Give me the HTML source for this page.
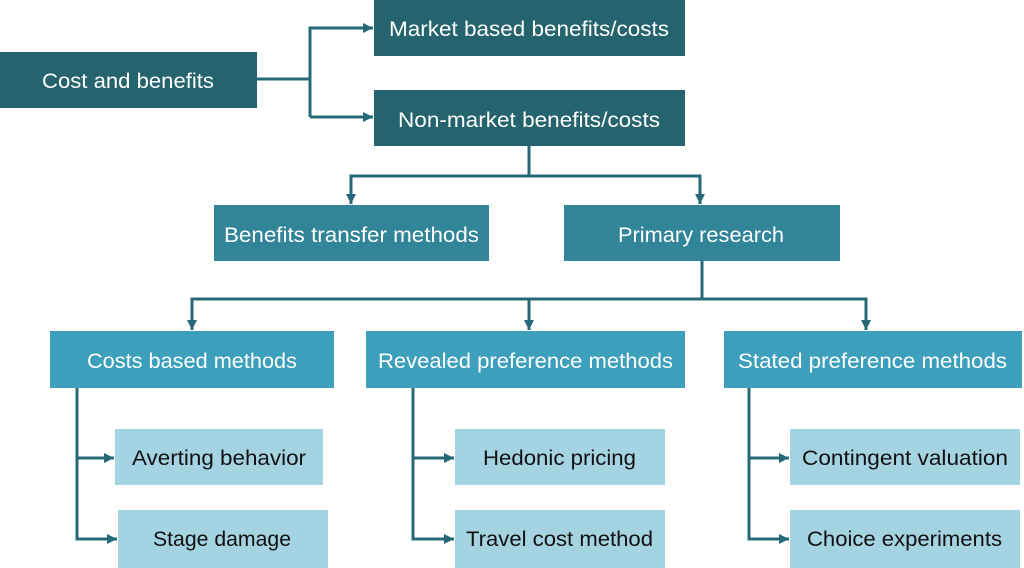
<!DOCTYPE html>
<html><head><meta charset="utf-8"><style>
html,body{margin:0;padding:0;background:#fff;}
svg{display:block;}
text{font-family:"Liberation Sans",Arial,sans-serif;font-size:21.5px;}
.w{fill:#ffffff;}
.k{fill:#111111;}
</style></head><body>
<svg width="1024" height="568" viewBox="0 0 1024 568" xmlns="http://www.w3.org/2000/svg">
<defs>
<marker id="a" viewBox="0 0 10 10" refX="10" refY="5" markerWidth="3.4" markerHeight="3.4" markerUnits="strokeWidth" orient="auto">
<path d="M0,0 L10,5 L0,10 z" fill="#266877"/>
</marker>
</defs>
<g fill="none" stroke="#266877" stroke-width="3">
<path d="M257,79 H310"/>
<path d="M310,117 V28 H373" marker-end="url(#a)"/>
<path d="M310,117 H373" marker-end="url(#a)"/>
<path d="M529,146 V176"/>
<path d="M529,176 H351 V204" marker-end="url(#a)"/>
<path d="M529,176 H700 V204" marker-end="url(#a)"/>
<path d="M702,261 V299"/>
<path d="M702,299 H192 V330" marker-end="url(#a)"/>
<path d="M529,299 V330" marker-end="url(#a)"/>
<path d="M702,299 H866 V330" marker-end="url(#a)"/>
<path d="M77,388 V539 H117" marker-end="url(#a)"/>
<path d="M77,458 H114" marker-end="url(#a)"/>
<path d="M413,388 V539 H454" marker-end="url(#a)"/>
<path d="M413,458 H454" marker-end="url(#a)"/>
<path d="M749,388 V539 H789" marker-end="url(#a)"/>
<path d="M749,458 H789" marker-end="url(#a)"/>
</g>
<g>
<rect x="0" y="52" width="257" height="56" fill="#25636f"/>
<rect x="374" y="0" width="311" height="56" fill="#25636f"/>
<rect x="374" y="90" width="311" height="56" fill="#25636f"/>
<rect x="214" y="205" width="275" height="56" fill="#328498"/>
<rect x="564" y="205" width="276" height="56" fill="#328498"/>
<rect x="50" y="331" width="284" height="57" fill="#3ca0bd"/>
<rect x="366" y="331" width="319" height="57" fill="#3ca0bd"/>
<rect x="724" y="331" width="298" height="57" fill="#3ca0bd"/>
<rect x="115" y="429" width="208" height="56" fill="#a4d4e1"/>
<rect x="118" y="510" width="210" height="58" fill="#a4d4e1"/>
<rect x="455" y="429" width="210" height="56" fill="#a4d4e1"/>
<rect x="455" y="510" width="210" height="58" fill="#a4d4e1"/>
<rect x="790" y="429" width="230" height="56" fill="#a4d4e1"/>
<rect x="790" y="510" width="230" height="58" fill="#a4d4e1"/>
</g>
<g>
<text class="w" x="42" y="88" textLength="172" lengthAdjust="spacingAndGlyphs">Cost and benefits</text>
<text class="w" x="389" y="36" textLength="280" lengthAdjust="spacingAndGlyphs">Market based benefits/costs</text>
<text class="w" x="398" y="127" textLength="262" lengthAdjust="spacingAndGlyphs">Non-market benefits/costs</text>
<text class="w" x="224" y="242" textLength="255" lengthAdjust="spacingAndGlyphs">Benefits transfer methods</text>
<text class="w" x="618" y="242" textLength="166" lengthAdjust="spacingAndGlyphs">Primary research</text>
<text class="w" x="87" y="368" textLength="210" lengthAdjust="spacingAndGlyphs">Costs based methods</text>
<text class="w" x="378" y="368" textLength="295" lengthAdjust="spacingAndGlyphs">Revealed preference methods</text>
<text class="w" x="738" y="368" textLength="269" lengthAdjust="spacingAndGlyphs">Stated preference methods</text>
<text class="k" x="132" y="465" textLength="174" lengthAdjust="spacingAndGlyphs">Averting behavior</text>
<text class="k" x="153" y="546" textLength="138" lengthAdjust="spacingAndGlyphs">Stage damage</text>
<text class="k" x="483" y="465" textLength="153" lengthAdjust="spacingAndGlyphs">Hedonic pricing</text>
<text class="k" x="466" y="546" textLength="187" lengthAdjust="spacingAndGlyphs">Travel cost method</text>
<text class="k" x="802" y="465" textLength="206" lengthAdjust="spacingAndGlyphs">Contingent valuation</text>
<text class="k" x="807" y="546" textLength="195" lengthAdjust="spacingAndGlyphs">Choice experiments</text>
</g>
</svg>
</body></html>
